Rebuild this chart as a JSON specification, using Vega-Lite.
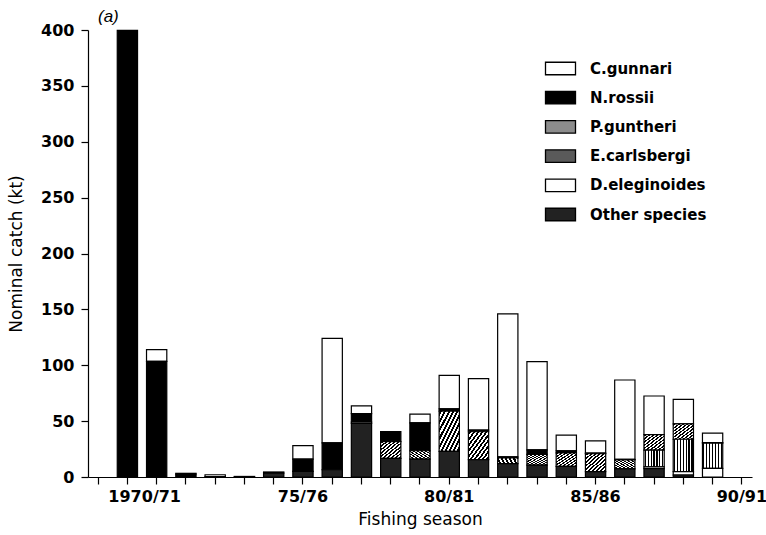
{
  "$schema": "https://vega.github.io/schema/vega-lite/v6.json",
  "width": 664,
  "height": 447,
  "autosize": {"type": "none"},
  "padding": {"left": 88, "top": 30, "right": 14, "bottom": 58},
  "background": "white",
  "config": {"view": {"stroke": null}},
  "title": {"text": "(a)", "anchor": "start", "frame": "group", "dx": 10, "offset": -4, "font": "Liberation Sans", "fontSize": 17, "fontStyle": "italic", "fontWeight": "normal", "color": "black"},
  "data": {"values": [
    {"season": "1969/70", "species": "N.rossii", "catch": 399.7},
    {"season": "1970/71", "species": "C.gunnari", "catch": 10.5},
    {"season": "1970/71", "species": "N.rossii", "catch": 103.5},
    {"season": "1971/72", "species": "C.gunnari", "catch": 0.6},
    {"season": "1971/72", "species": "N.rossii", "catch": 2.7},
    {"season": "1972/73", "species": "C.gunnari", "catch": 1.6},
    {"season": "1972/73", "species": "N.rossii", "catch": 0.4},
    {"season": "1973/74", "species": "C.gunnari", "catch": 0.3},
    {"season": "1973/74", "species": "N.rossii", "catch": 0.2},
    {"season": "1974/75", "species": "N.rossii", "catch": 1},
    {"season": "1974/75", "species": "Other species", "catch": 3.5},
    {"season": "1975/76", "species": "C.gunnari", "catch": 12},
    {"season": "1975/76", "species": "N.rossii", "catch": 11},
    {"season": "1975/76", "species": "Other species", "catch": 5},
    {"season": "1976/77", "species": "C.gunnari", "catch": 93.5},
    {"season": "1976/77", "species": "N.rossii", "catch": 24},
    {"season": "1976/77", "species": "Other species", "catch": 6.5},
    {"season": "1977/78", "species": "C.gunnari", "catch": 7},
    {"season": "1977/78", "species": "N.rossii", "catch": 7.5},
    {"season": "1977/78", "species": "D.eleginoides", "catch": 1.2},
    {"season": "1977/78", "species": "Other species", "catch": 48},
    {"season": "1978/79", "species": "N.rossii", "catch": 9},
    {"season": "1978/79", "species": "P.guntheri", "catch": 15},
    {"season": "1978/79", "species": "Other species", "catch": 16.6},
    {"season": "1979/80", "species": "C.gunnari", "catch": 7.8},
    {"season": "1979/80", "species": "N.rossii", "catch": 25},
    {"season": "1979/80", "species": "P.guntheri", "catch": 7.5},
    {"season": "1979/80", "species": "Other species", "catch": 16},
    {"season": "1980/81", "species": "C.gunnari", "catch": 30},
    {"season": "1980/81", "species": "N.rossii", "catch": 2},
    {"season": "1980/81", "species": "P.guntheri", "catch": 36},
    {"season": "1980/81", "species": "Other species", "catch": 23},
    {"season": "1981/82", "species": "C.gunnari", "catch": 46},
    {"season": "1981/82", "species": "N.rossii", "catch": 1.5},
    {"season": "1981/82", "species": "P.guntheri", "catch": 25},
    {"season": "1981/82", "species": "Other species", "catch": 15.5},
    {"season": "1982/83", "species": "C.gunnari", "catch": 128},
    {"season": "1982/83", "species": "N.rossii", "catch": 1},
    {"season": "1982/83", "species": "P.guntheri", "catch": 5},
    {"season": "1982/83", "species": "Other species", "catch": 12},
    {"season": "1983/84", "species": "C.gunnari", "catch": 79},
    {"season": "1983/84", "species": "N.rossii", "catch": 4},
    {"season": "1983/84", "species": "P.guntheri", "catch": 9.5},
    {"season": "1983/84", "species": "Other species", "catch": 10.7},
    {"season": "1984/85", "species": "C.gunnari", "catch": 14},
    {"season": "1984/85", "species": "N.rossii", "catch": 2},
    {"season": "1984/85", "species": "P.guntheri", "catch": 12},
    {"season": "1984/85", "species": "Other species", "catch": 9.5},
    {"season": "1985/86", "species": "C.gunnari", "catch": 11},
    {"season": "1985/86", "species": "N.rossii", "catch": 0.5},
    {"season": "1985/86", "species": "P.guntheri", "catch": 16},
    {"season": "1985/86", "species": "Other species", "catch": 4.8},
    {"season": "1986/87", "species": "C.gunnari", "catch": 71},
    {"season": "1986/87", "species": "N.rossii", "catch": 0.5},
    {"season": "1986/87", "species": "P.guntheri", "catch": 8},
    {"season": "1986/87", "species": "Other species", "catch": 7.3},
    {"season": "1987/88", "species": "C.gunnari", "catch": 34.5},
    {"season": "1987/88", "species": "P.guntheri", "catch": 14},
    {"season": "1987/88", "species": "E.carlsbergi", "catch": 15},
    {"season": "1987/88", "species": "D.eleginoides", "catch": 1.5},
    {"season": "1987/88", "species": "Other species", "catch": 7.5},
    {"season": "1988/89", "species": "C.gunnari", "catch": 22},
    {"season": "1988/89", "species": "P.guntheri", "catch": 13.7},
    {"season": "1988/89", "species": "E.carlsbergi", "catch": 29},
    {"season": "1988/89", "species": "D.eleginoides", "catch": 3},
    {"season": "1988/89", "species": "Other species", "catch": 1.8},
    {"season": "1989/90", "species": "C.gunnari", "catch": 8.4},
    {"season": "1989/90", "species": "P.guntheri", "catch": 0.5},
    {"season": "1989/90", "species": "E.carlsbergi", "catch": 22.5},
    {"season": "1989/90", "species": "D.eleginoides", "catch": 7.8}
  ]},
  "transform": [
    {"calculate": "indexof(['Other species', 'D.eleginoides', 'E.carlsbergi', 'P.guntheri', 'N.rossii', 'C.gunnari'], datum.species)", "as": "stackRank"}
  ],
  "mark": {"type": "bar", "stroke": "black", "strokeWidth": 1.2},
  "encoding": {
    "x": {
      "field": "season", "type": "ordinal",
      "scale": {"domain": ["1968/69","1969/70","1970/71","1971/72","1972/73","1973/74","1974/75","1975/76","1976/77","1977/78","1978/79","1979/80","1980/81","1981/82","1982/83","1983/84","1984/85","1985/86","1986/87","1987/88","1988/89","1989/90","1990/91"], "paddingInner": 0.307, "paddingOuter": 0},
      "axis": {
        "title": "Fishing season",
        "titleFont": "DejaVu Sans", "titleFontSize": 17, "titleFontWeight": "normal", "titleColor": "black", "titlePadding": 7,
        "labelExpr": "datum.value === '1970/71' ? '1970/71' : (datum.value === '1975/76' || datum.value === '1980/81' || datum.value === '1985/86' || datum.value === '1990/91') ? substring(datum.value, 2) : ''",
        "labelOffset": {"condition": {"test": "datum.value === '1970/71'", "value": -12}, "value": 0},
        "labelAngle": 0, "labelOverlap": false,
        "labelFont": "DejaVu Sans", "labelFontWeight": "bold", "labelFontSize": 16, "labelColor": "black", "labelPadding": 4,
        "tickSize": 7, "tickColor": "black", "domainColor": "black", "tickWidth": 1.2, "domainWidth": 1.2, "grid": false
      }
    },
    "y": {
      "field": "catch", "type": "quantitative", "stack": "zero",
      "scale": {"domain": [0, 400], "nice": false},
      "axis": {
        "title": "Nominal catch (kt)",
        "titleFont": "DejaVu Sans", "titleFontSize": 17, "titleFontWeight": "normal", "titleColor": "black", "titlePadding": 15,
        "values": [0, 50, 100, 150, 200, 250, 300, 350, 400],
        "labelFont": "DejaVu Sans", "labelFontWeight": "bold", "labelFontSize": 16, "labelColor": "black", "labelPadding": 7,
        "tickSize": 7, "tickColor": "black", "domainColor": "black", "tickWidth": 1.2, "domainWidth": 1.2, "grid": false
      }
    },
    "order": {"field": "stackRank", "type": "quantitative", "sort": "ascending"},
    "fill": {
      "field": "species", "type": "nominal",
      "sort": ["C.gunnari", "N.rossii", "P.guntheri", "E.carlsbergi", "D.eleginoides", "Other species"],
      "scale": {"range": ["white", "black", "#8c8c8c", "#5a5a5a", "white", "#222222"]},
      "condition": [
        {"test": "datum.species === 'E.carlsbergi'", "value": {"gradient": "linear", "x1": 0, "y1": 0, "x2": 1, "y2": 0, "stops": [
          {"offset": 0, "color": "white"}, {"offset": 0.04, "color": "white"}, {"offset": 0.04, "color": "black"}, {"offset": 0.1, "color": "black"}, {"offset": 0.1, "color": "white"},
          {"offset": 0.183, "color": "white"}, {"offset": 0.183, "color": "black"}, {"offset": 0.243, "color": "black"}, {"offset": 0.243, "color": "white"},
          {"offset": 0.326, "color": "white"}, {"offset": 0.326, "color": "black"}, {"offset": 0.386, "color": "black"}, {"offset": 0.386, "color": "white"},
          {"offset": 0.469, "color": "white"}, {"offset": 0.469, "color": "black"}, {"offset": 0.529, "color": "black"}, {"offset": 0.529, "color": "white"},
          {"offset": 0.611, "color": "white"}, {"offset": 0.611, "color": "black"}, {"offset": 0.671, "color": "black"}, {"offset": 0.671, "color": "white"},
          {"offset": 0.754, "color": "white"}, {"offset": 0.754, "color": "black"}, {"offset": 0.814, "color": "black"}, {"offset": 0.814, "color": "white"},
          {"offset": 0.897, "color": "white"}, {"offset": 0.897, "color": "black"}, {"offset": 0.957, "color": "black"}, {"offset": 0.957, "color": "white"},
          {"offset": 1, "color": "white"}]}},
        {"test": "datum.species === 'P.guntheri'", "value": {"gradient": "linear", "x1": 0, "y1": 0, "x2": 1, "y2": 1, "stops": [
          {"offset": 0, "color": "white"}, {"offset": 0.025, "color": "white"}, {"offset": 0.025, "color": "black"}, {"offset": 0.075, "color": "black"}, {"offset": 0.075, "color": "white"},
          {"offset": 0.125, "color": "white"}, {"offset": 0.125, "color": "black"}, {"offset": 0.175, "color": "black"}, {"offset": 0.175, "color": "white"},
          {"offset": 0.225, "color": "white"}, {"offset": 0.225, "color": "black"}, {"offset": 0.275, "color": "black"}, {"offset": 0.275, "color": "white"},
          {"offset": 0.325, "color": "white"}, {"offset": 0.325, "color": "black"}, {"offset": 0.375, "color": "black"}, {"offset": 0.375, "color": "white"},
          {"offset": 0.425, "color": "white"}, {"offset": 0.425, "color": "black"}, {"offset": 0.475, "color": "black"}, {"offset": 0.475, "color": "white"},
          {"offset": 0.525, "color": "white"}, {"offset": 0.525, "color": "black"}, {"offset": 0.575, "color": "black"}, {"offset": 0.575, "color": "white"},
          {"offset": 0.625, "color": "white"}, {"offset": 0.625, "color": "black"}, {"offset": 0.675, "color": "black"}, {"offset": 0.675, "color": "white"},
          {"offset": 0.725, "color": "white"}, {"offset": 0.725, "color": "black"}, {"offset": 0.775, "color": "black"}, {"offset": 0.775, "color": "white"},
          {"offset": 0.825, "color": "white"}, {"offset": 0.825, "color": "black"}, {"offset": 0.875, "color": "black"}, {"offset": 0.875, "color": "white"},
          {"offset": 0.925, "color": "white"}, {"offset": 0.925, "color": "black"}, {"offset": 0.975, "color": "black"}, {"offset": 0.975, "color": "white"},
          {"offset": 1, "color": "white"}]}}
      ],
      "legend": {
        "orient": "none", "legendX": 459, "legendY": 25, "title": null, "padding": 0,
        "symbolType": "M-1.2,-0.5H1.2V0.5H-1.2Z", "symbolSize": 625,
        "symbolStrokeWidth": 1.3,
        "labelFont": "DejaVu Sans", "labelFontWeight": "bold", "labelFontSize": 15, "labelColor": "black",
        "labelOffset": 16, "rowPadding": 6.2,
        "encode": {"symbols": {
          "fill": {"value": {"expr": "datum.value === 'E.carlsbergi' ? {gradient: 'linear', x1: 0, y1: 0, x2: 1, y2: 0, stops: [{offset: 0, color: 'white'}, {offset: 0.05, color: 'white'}, {offset: 0.05, color: 'black'}, {offset: 0.1, color: 'black'}, {offset: 0.1, color: 'white'}, {offset: 0.175, color: 'white'}, {offset: 0.175, color: 'black'}, {offset: 0.225, color: 'black'}, {offset: 0.225, color: 'white'}, {offset: 0.3, color: 'white'}, {offset: 0.3, color: 'black'}, {offset: 0.35, color: 'black'}, {offset: 0.35, color: 'white'}, {offset: 0.425, color: 'white'}, {offset: 0.425, color: 'black'}, {offset: 0.475, color: 'black'}, {offset: 0.475, color: 'white'}, {offset: 0.55, color: 'white'}, {offset: 0.55, color: 'black'}, {offset: 0.6, color: 'black'}, {offset: 0.6, color: 'white'}, {offset: 0.675, color: 'white'}, {offset: 0.675, color: 'black'}, {offset: 0.725, color: 'black'}, {offset: 0.725, color: 'white'}, {offset: 0.8, color: 'white'}, {offset: 0.8, color: 'black'}, {offset: 0.85, color: 'black'}, {offset: 0.85, color: 'white'}, {offset: 0.925, color: 'white'}, {offset: 0.925, color: 'black'}, {offset: 0.975, color: 'black'}, {offset: 0.975, color: 'white'}, {offset: 1, color: 'white'}]} : datum.value === 'P.guntheri' ? {gradient: 'linear', x1: 0, y1: 0, x2: 1, y2: 1, stops: [{offset: 0, color: 'white'}, {offset: 0.025, color: 'white'}, {offset: 0.025, color: 'black'}, {offset: 0.075, color: 'black'}, {offset: 0.075, color: 'white'}, {offset: 0.125, color: 'white'}, {offset: 0.125, color: 'black'}, {offset: 0.175, color: 'black'}, {offset: 0.175, color: 'white'}, {offset: 0.225, color: 'white'}, {offset: 0.225, color: 'black'}, {offset: 0.275, color: 'black'}, {offset: 0.275, color: 'white'}, {offset: 0.325, color: 'white'}, {offset: 0.325, color: 'black'}, {offset: 0.375, color: 'black'}, {offset: 0.375, color: 'white'}, {offset: 0.425, color: 'white'}, {offset: 0.425, color: 'black'}, {offset: 0.475, color: 'black'}, {offset: 0.475, color: 'white'}, {offset: 0.525, color: 'white'}, {offset: 0.525, color: 'black'}, {offset: 0.575, color: 'black'}, {offset: 0.575, color: 'white'}, {offset: 0.625, color: 'white'}, {offset: 0.625, color: 'black'}, {offset: 0.675, color: 'black'}, {offset: 0.675, color: 'white'}, {offset: 0.725, color: 'white'}, {offset: 0.725, color: 'black'}, {offset: 0.775, color: 'black'}, {offset: 0.775, color: 'white'}, {offset: 0.825, color: 'white'}, {offset: 0.825, color: 'black'}, {offset: 0.875, color: 'black'}, {offset: 0.875, color: 'white'}, {offset: 0.925, color: 'white'}, {offset: 0.925, color: 'black'}, {offset: 0.975, color: 'black'}, {offset: 0.975, color: 'white'}, {offset: 1, color: 'white'}]} : datum.value === 'N.rossii' ? 'black' : datum.value === 'Other species' ? '#222222' : 'white'"}}
        }}
      }
    }
  }
}
